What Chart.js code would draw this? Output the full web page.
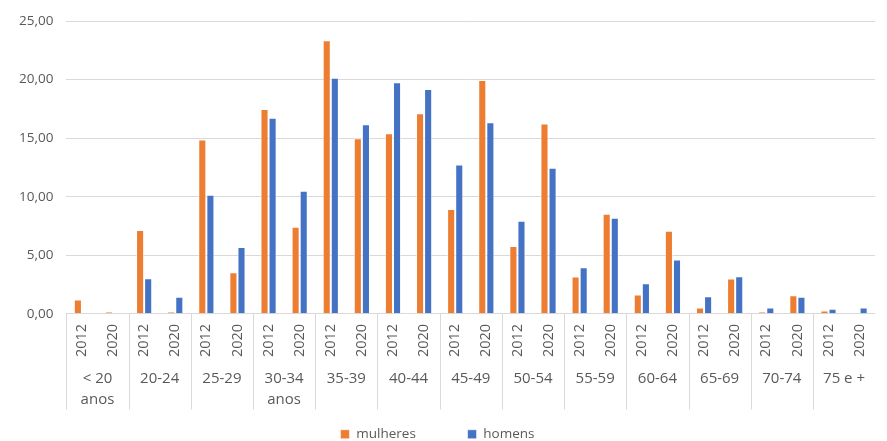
<!DOCTYPE html>
<html>
<head>
<meta charset="utf-8">
<script src="https://cdn.jsdelivr.net/npm/chart.js@4.4.1/dist/chart.umd.min.js"></script>
<style>
  html, body { margin: 0; padding: 0; background: #fff; }
  #wrap { width: 887px; height: 441px; }
</style>
</head>
<body>
<div id="wrap"><canvas id="chart"></canvas></div>
<script>
// age groups (second level of the x axis)
const groups = [['< 20', 'anos'], '20-24', '25-29', ['30-34', 'anos'], '35-39', '40-44',
  '45-49', '50-54', '55-59', '60-64', '65-69', '70-74', '75 e +'];
const years = ['2012', '2020'];

// one value per (group, year), in group order
const mulheres = [1.22, 0.17, 7.16, 0.17, 14.89, 3.55, 17.5, 7.44, 23.36, 15.0, 15.43, 17.13,
  8.95, 19.97, 5.8, 16.25, 3.18, 8.55, 1.65, 7.1, 0.54, 3.01, 0.17, 1.59, 0.28, 0];
const homens = [0, 0, 3.04, 1.45, 10.17, 5.71, 16.74, 10.51, 20.17, 16.2, 19.78, 19.2,
  12.76, 16.37, 7.95, 12.47, 3.97, 8.21, 2.61, 4.63, 1.5, 3.21, 0.54, 1.45, 0.43, 0.54];

const yTicks = [0, 5, 10, 15, 20, 25];

const labels = [];
groups.forEach(() => years.forEach(y => labels.push(y)));

const FONT = "'Open Sans', 'Noto Sans', sans-serif";
const TXT = '#595959';
const GRID = '#d9d9d9';

// group separators under the axis
const separators = {
  id: 'separators',
  afterDraw(chart) {
    const x = chart.scales.x, x2 = chart.scales.x2;
    const ctx = chart.ctx;
    ctx.save();
    ctx.strokeStyle = GRID;
    ctx.lineWidth = 1;
    for (let i = 0; i < groups.length; i++) {
      let px = i === 0 ? x.left : (x.getPixelForValue(2 * i - 1) + x.getPixelForValue(2 * i)) / 2;
      px = Math.round(px) + 0.5;
      ctx.beginPath();
      ctx.moveTo(px, x.top);
      ctx.lineTo(px, x2.bottom);
      ctx.stroke();
    }
    ctx.restore();
  }
};

new Chart(document.getElementById('chart'), {
  type: 'bar',
  data: {
    labels: labels,
    datasets: [
      {
        label: 'mulheres',
        data: mulheres,
        backgroundColor: '#ED7D31',
        borderColor: 'rgba(255,255,255,0.55)',
        borderWidth: 1,
        categoryPercentage: 0.52,
        barPercentage: 1.0
      },
      {
        label: 'homens',
        data: homens,
        backgroundColor: '#4472C4',
        borderColor: 'rgba(255,255,255,0.55)',
        borderWidth: 1,
        categoryPercentage: 0.52,
        barPercentage: 1.0
      }
    ]
  },
  options: {
    responsive: true,
    maintainAspectRatio: false,
    animation: false,
    layout: { padding: { top: 9, right: 0, left: 6, bottom: -10 } },
    plugins: {
      legend: {
        position: 'bottom',
        labels: {
          boxWidth: 9, boxHeight: 9, padding: 18,
          color: TXT,
          font: { family: FONT, size: 13.5 },
          generateLabels(chart) {
            const items = Chart.defaults.plugins.legend.labels.generateLabels(chart);
            // wider gap between the entries, and pull the pair a bit left
            items[0].text = items[0].text + '\u2003\u2003\u2002';
            items[1].text = items[1].text + '\u2003\u2009\u2009';
            return items;
          }
        }
      },
      tooltip: { enabled: false }
    },
    scales: {
      x: {
        weight: 0,
        grid: { display: false, drawTicks: false },
        border: { display: false },
        ticks: {
          minRotation: 90, maxRotation: 90,
          padding: 10,
          color: TXT,
          font: { family: FONT, size: 14.5 }
        }
      },
      x2: {
        type: 'category',
        labels: groups,
        position: 'bottom',
        offset: true,
        weight: 1,
        grid: { display: false, drawTicks: false },
        border: { display: false },
        afterFit(scale) { scale.height -= 2; },
        ticks: {
          padding: 2,
          color: TXT,
          font: { family: FONT, size: 15, lineHeight: 1.35 }
        }
      },
      y: {
        min: 0, max: 25,
        afterBuildTicks(axis) { axis.ticks = yTicks.map(v => ({ value: v })); },
        grid: { color: GRID, drawTicks: false },
        border: { display: false },
        ticks: {
          padding: 13,
          color: TXT,
          font: { family: FONT, size: 13.5 },
          callback: v => v.toFixed(2).replace('.', ',')
        }
      }
    }
  },
  plugins: [separators]
});
</script>
</body>
</html>
